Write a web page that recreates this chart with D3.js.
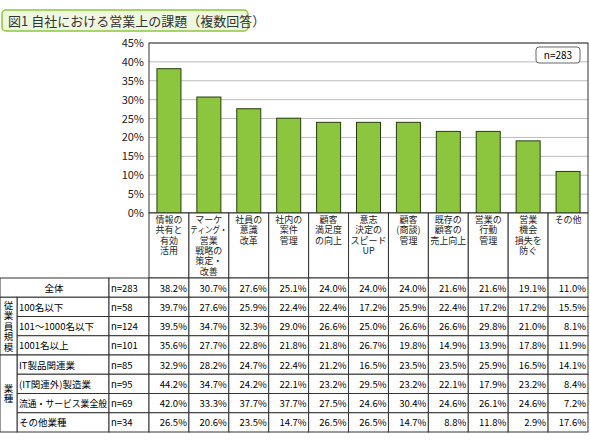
<!DOCTYPE html>
<html><head><meta charset="utf-8">
<script src="https://cdn.jsdelivr.net/npm/d3@7"></script>
<style>body{margin:0;background:#fff}text{font-family:"Noto Sans CJK JP",sans-serif}</style>
</head><body><div id="chart"></div>
<script>
const categories = [
  ["情報の","共有と","有効","活用"],
  ["マーケ","ティング・","営業","戦略の","策定・","改善"],
  ["社員の","意識","改革"],
  ["社内の","案件","管理"],
  ["顧客","満足度","の向上"],
  ["意志","決定の","スピード","UP"],
  ["顧客","(商談)","管理"],
  ["既存の","顧客の","売上向上"],
  ["営業の","行動","管理"],
  ["営業","機会","損失を","防ぐ"],
  ["その他"]
];
const totals = [38.2, 30.7, 27.6, 25.1, 24.0, 24.0, 24.0, 21.6, 21.6, 19.1, 11.0];
const yTicks = [0, 5, 10, 15, 20, 25, 30, 35, 40, 45];
const rowLabels = ["全体","100名以下","101～1000名以下","1001名以上","IT製品関連業","(IT関連外)製造業","流通・サービス業全般","その他業種"];
const rowN = ["n=283","n=58","n=124","n=101","n=85","n=95","n=69","n=34"];
const rowValues = [
  [38.2,30.7,27.6,25.1,24.0,24.0,24.0,21.6,21.6,19.1,11.0],
  [39.7,27.6,25.9,22.4,22.4,17.2,25.9,22.4,17.2,17.2,15.5],
  [39.5,34.7,32.3,29.0,26.6,25.0,26.6,26.6,29.8,21.0,8.1],
  [35.6,27.7,22.8,21.8,21.8,26.7,19.8,14.9,13.9,17.8,11.9],
  [32.9,28.2,24.7,22.4,21.2,16.5,23.5,23.5,25.9,16.5,14.1],
  [44.2,34.7,24.2,22.1,23.2,29.5,23.2,22.1,17.9,23.2,8.4],
  [42.0,33.3,37.7,37.7,27.5,24.6,30.4,24.6,26.1,24.6,7.2],
  [26.5,20.6,23.5,14.7,26.5,26.5,14.7,8.8,11.8,2.9,17.6]
];
const groups = [["従業員規模",1,3],["業種",4,7]];

const W = 590, H = 443;
const svg = d3.select("#chart").append("svg").attr("width", W).attr("height", H);
const line = "#333";

// title
svg.append("rect").attr("x", 2).attr("y", 10).attr("width", 246).attr("height", 21)
  .attr("rx", 4).attr("fill", "#eef7df").attr("stroke", "#8cc63f").attr("stroke-width", 1.5);
svg.append("text").attr("x", 8).attr("y", 26).attr("font-size", 13).attr("fill", "#333")
  .text("図1 自社における営業上の課題（複数回答）");

const x0 = 149, x1 = 588;
const x = d3.scaleBand().domain(d3.range(totals.length)).range([x0, x1]).padding(0);
const y = d3.scaleLinear().domain([0, 45]).range([213, 43]);

// gridlines
svg.append("g").selectAll("line").data(yTicks).join("line")
  .attr("x1", x0).attr("x2", x1).attr("y1", d => y(d)).attr("y2", d => y(d))
  .attr("stroke", "#bbb");
svg.append("rect").attr("x", x0).attr("y", y(45)).attr("width", x1 - x0).attr("height", y(0) - y(45))
  .attr("fill", "none").attr("stroke", line);

const yAxis = svg.append("g").attr("transform", `translate(${x0},0)`)
  .call(d3.axisLeft(y).tickValues(yTicks).tickSize(0).tickFormat(d => d + "%"));
yAxis.select(".domain").remove();
yAxis.selectAll("text").attr("font-size", 11).attr("fill", "#222").attr("dx", -2);

// bars
const bw = 24;
svg.append("g").selectAll("rect").data(totals).join("rect")
  .attr("x", (d, i) => x(i) + (x.bandwidth() - bw) / 2).attr("width", bw)
  .attr("y", d => y(d)).attr("height", d => y(0) - y(d))
  .attr("fill", "#8cc63f").attr("stroke", "#2a3a10").attr("stroke-width", 1);

// n box
svg.append("rect").attr("x", 536).attr("y", 47).attr("width", 44).attr("height", 16)
  .attr("rx", 3).attr("fill", "#fff").attr("stroke", "#666");
svg.append("text").attr("x", 558).attr("y", 59).attr("text-anchor", "middle").attr("font-size", 10).text("n=283");

// fit text into a width
function fit(sel, maxW) {
  const n = sel.node();
  if (n.getComputedTextLength() > maxW) sel.attr("textLength", maxW).attr("lengthAdjust", "spacingAndGlyphs");
  return sel;
}

// category label cells
const labTop = 213, labBot = 278;
categories.forEach((c, i) => {
  svg.append("rect").attr("x", x(i)).attr("y", labTop).attr("width", x.bandwidth()).attr("height", labBot - labTop)
    .attr("fill", "#fff").attr("stroke", line);
  c.forEach((t, j) => fit(svg.append("text").attr("x", x(i) + x.bandwidth() / 2).attr("y", labTop + 10 + j * 10.3)
    .attr("text-anchor", "middle").attr("font-size", 9).attr("fill", "#222").text(t), 37));
});

// table
const rowH = (432 - labBot) / rowLabels.length;
const ry = i => labBot + i * rowH;
rowLabels.forEach((lab, r) => {
  const gx = r === 0 ? 0 : 17;
  svg.append("rect").attr("x", gx).attr("y", ry(r)).attr("width", 109 - gx).attr("height", rowH)
    .attr("fill", "#fff").attr("stroke", line);
  fit(svg.append("text").attr("x", r === 0 ? 54 : gx + 2).attr("y", ry(r) + rowH / 2 + 4)
    .attr("text-anchor", r === 0 ? "middle" : "start").attr("font-size", 9.5).text(lab), 88);
  svg.append("rect").attr("x", 109).attr("y", ry(r)).attr("width", 40).attr("height", rowH)
    .attr("fill", "#fff").attr("stroke", line);
  svg.append("text").attr("x", 111).attr("y", ry(r) + rowH / 2 + 4).attr("font-size", 9.5).text(rowN[r]);
  rowValues[r].forEach((v, i) => {
    svg.append("rect").attr("x", x(i)).attr("y", ry(r)).attr("width", x.bandwidth()).attr("height", rowH)
      .attr("fill", "#fff").attr("stroke", line);
    svg.append("text").attr("x", x(i) + x.bandwidth() - 2).attr("y", ry(r) + rowH / 2 + 4)
      .attr("text-anchor", "end").attr("font-size", 9.5).text(v.toFixed(1) + "%");
  });
});
groups.forEach(([lab, a, b]) => {
  svg.append("rect").attr("x", 0).attr("y", ry(a)).attr("width", 17).attr("height", ry(b + 1) - ry(a))
    .attr("fill", "#fff").attr("stroke", line);
  const chars = [...lab], mid = (ry(a) + ry(b + 1)) / 2;
  chars.forEach((ch, k) => svg.append("text").attr("x", 8.5)
    .attr("y", mid + (k - (chars.length - 1) / 2) * 10.5 + 3.5)
    .attr("text-anchor", "middle").attr("font-size", 9.5).text(ch));
});
</script></body></html>
